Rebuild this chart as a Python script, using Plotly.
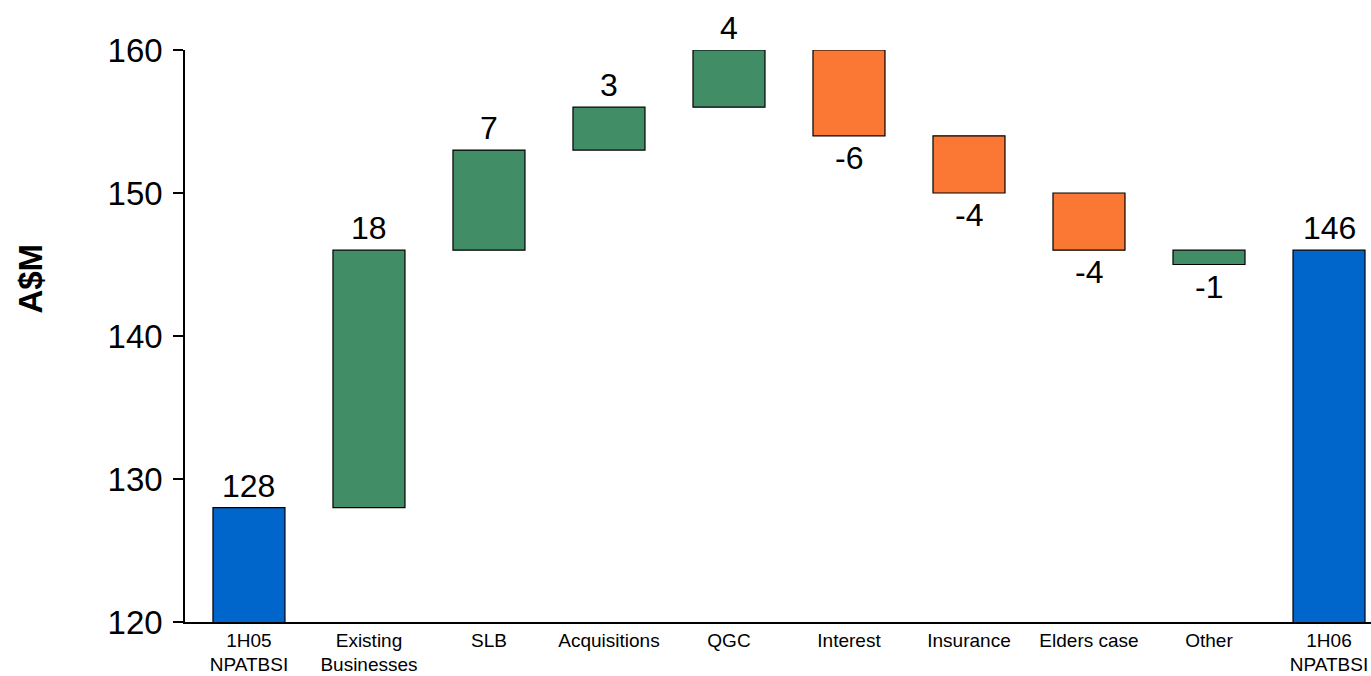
import plotly.graph_objects as go

# NPATBSI bridge, 1H05 to 1H06 (A$M)
categories = ["1H05<br>NPATBSI", "Existing<br>Businesses", "SLB", "Acquisitions", "QGC",
              "Interest", "Insurance", "Elders case", "Other", "1H06<br>NPATBSI"]
changes = [128, 18, 7, 3, 4, -6, -4, -4, -1, 146]
kinds = ["total", "up", "up", "up", "up", "down", "down", "down", "up", "total"]

kind_colors = {"total": "#0066CC", "up": "#418D65", "down": "#FA7833"}

# running base for each floating bar
bases = []
running = 0
for v, k in zip(changes, kinds):
    if k == "total":
        bases.append(0)
        running = v
    else:
        bases.append(running)
        running += v

x_pos = list(range(len(categories)))

fig = go.Figure()
fig.add_trace(go.Bar(
    x=x_pos,
    y=changes,
    base=bases,
    width=0.6,
    marker=dict(color=[kind_colors[k] for k in kinds],
                line=dict(color="black", width=1.2)),
    hoverinfo="skip",
    cliponaxis=False,
))

annotations = []
for i, (v, b) in enumerate(zip(changes, bases)):
    end = b + v
    above = v >= 0
    annotations.append(dict(x=i, y=end, text=str(v), showarrow=False,
                            yanchor="bottom" if above else "top",
                            yshift=2 if above else -2,
                            font=dict(size=32, color="black")))

# vertical axis title
annotations.append(dict(xref="paper", yref="paper", x=-0.13, y=0.6,
                        text="<b>A$M</b>", textangle=-90, showarrow=False,
                        xanchor="center", yanchor="middle",
                        font=dict(size=33, color="black")))

fig.update_layout(
    width=1371, height=676,
    margin=dict(l=185, r=0, t=50, b=54),
    paper_bgcolor="white", plot_bgcolor="white",
    font=dict(family="Liberation Sans, Arial, sans-serif", color="black"),
    showlegend=False,
    annotations=annotations,
)
fig.update_xaxes(
    tickmode="array", tickvals=x_pos, ticktext=categories,
    range=[-0.533, 9.35],
    showline=True, linecolor="black", linewidth=1.5,
    ticks="", showgrid=False, zeroline=False,
    tickfont=dict(size=19, color="black"),
)
fig.update_yaxes(
    range=[120, 160], tickvals=[120, 130, 140, 150, 160],
    showline=True, linecolor="black", linewidth=1.5,
    ticks="outside", ticklen=10, tickcolor="black", tickwidth=1.5,
    showgrid=False, zeroline=False,
    tickfont=dict(size=33, color="black"),
    ticklabelstandoff=4,
)

fig.write_html("out.html")
